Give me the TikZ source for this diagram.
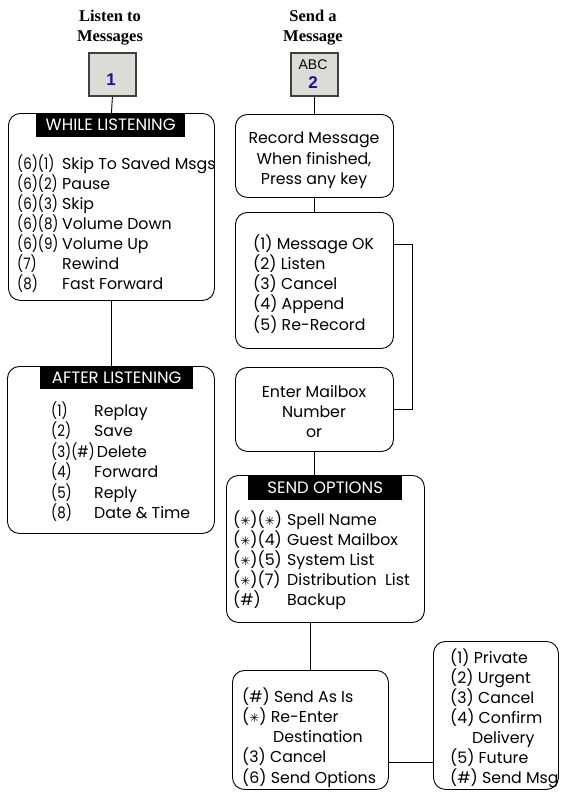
\documentclass[tikz,border=0pt]{standalone}
\usepackage{fontspec}
\usepackage{graphicx}
\setmainfont{Liberation Serif}
\newfontfamily\gothic{Poppins}
\newfontfamily\symfont{DejaVu Sans}
\newfontfamily\keyfont{Liberation Sans}
\usetikzlibrary{positioning}

\definecolor{keygray}{RGB}{221,219,213}
\definecolor{keyblue}{RGB}{20,20,150}
\newcommand{\starkey}{{\symfont\fontsize{12}{12}\selectfont ✳}}
\newcommand{\keycol}[2]{\makebox[#1][l]{\scalebox{0.85}[1]{#2}}}

\tikzset{
	menubox/.style={draw, rounded corners=12pt, line width=0.9pt, anchor=north west, inner sep=0pt},
	header/.style={fill=black, text=white, font=\gothic\fontsize{16.5}{16.5}\selectfont, anchor=north west, inner sep=0pt},
	item/.style={anchor=base west, inner sep=0pt, font=\gothic\fontsize{15.8}{15.8}\selectfont},
	citem/.style={item, anchor=base},
	keybox/.style={draw=black!75, fill=keygray, line width=1.8pt, anchor=north west, inner sep=0pt, minimum width=47pt, minimum height=43pt},
	title/.style={align=center, font=\bfseries\fontsize{16.5}{20}\selectfont},
	link/.style={line width=0.9pt}
}

\begin{document}
\begin{tikzpicture}[x=1pt, y=-1pt]
	\useasboundingbox (0,0) rectangle (561,792);

	% titles and keys
	\node[title] (t1) at (110,28) {Listen to\\Messages};
	\node[title] (t2) at (313,28) {Send a\\Message};
	\node[keybox] (k1) at (88,52) {};
	\node[keybox] (k2) at (290,52) {};
	\node[font=\keyfont\bfseries\fontsize{17}{17}\selectfont, text=keyblue] (k1num) at (111,80) {1};
	\node[font=\keyfont\fontsize{14}{14}\selectfont] (k2abc) at (313,65) {ABC};
	\node[font=\keyfont\bfseries\fontsize{17}{17}\selectfont, text=keyblue] (k2num) at (313,83) {2};

	% left column
	\node[menubox, minimum width=206pt, minimum height=187pt] (wl) at (8,113) {};
	\node[header, minimum width=149pt, minimum height=24pt] (wlhead) at (36,113) {WHILE LISTENING};
	\foreach \k/\t [count=\i] in {(6)(1)/Skip To Saved Msgs, (6)(2)/Pause, (6)(3)/Skip, (6)(8)/Volume Down, (6)(9)/Volume Up, (7)/Rewind, (8)/Fast Forward}
		\node[item] (wl\i) at (17,149+20*\i) {\keycol{45pt}{\k}\t};

	\node[menubox, minimum width=207pt, minimum height=167pt] (al) at (7,366) {};
	\node[header, minimum width=153pt, minimum height=23pt] (alhead) at (40,366) {AFTER LISTENING};
	\foreach \k/\t [count=\i] in {(1)/Replay, (2)/Save, (3)(\#)/\,Delete, (4)/Forward, (5)/Reply, (8)/Date \& Time}
		\node[item] (al\i) at (51,396+20.4*\i) {\keycol{43pt}{\k}\t};

	% right column
	\node[menubox, minimum width=158pt, minimum height=83pt] (rec) at (235,114) {};
	\foreach \t [count=\i] in {Record Message, {When finished,}, Press any key}
		\node[citem] (rec\i) at (314,123+20.5*\i) {\t};

	\node[menubox, minimum width=158pt, minimum height=136pt] (opt) at (235,212) {};
	\foreach \t [count=\i] in {(1) Message OK, (2) Listen, (3) Cancel, (4) Append, (5) Re-Record}
		\node[item] (opt\i) at (253,229+20.2*\i) {\t};

	\node[menubox, minimum width=158pt, minimum height=84pt] (ent) at (235,367) {};
	\foreach \t [count=\i] in {Enter Mailbox, Number, or}
		\node[citem] (ent\i) at (314,377+20*\i) {\t};

	\node[menubox, minimum width=198pt, minimum height=147pt] (so) at (226,475) {};
	\node[header, minimum width=154pt, minimum height=25pt] (sohead) at (248,475) {SEND OPTIONS};
	\foreach \k/\t [count=\i] in {(\starkey)(\starkey)/Spell Name, (\starkey)(4)/Guest Mailbox, (\starkey)(5)/System List, (\starkey)(7)/Distribution\ \ List, (\#)/Backup}
		\node[item] (so\i) at (233,505+20*\i) {\makebox[54pt][l]{\k}\t};

	\node[menubox, minimum width=156pt, minimum height=119pt] (snd) at (232,670) {};
	\foreach \x/\t [count=\i] in {242/(\#) Send As Is, 242/(\starkey) Re-Enter, 273/Destination, 242/(3) Cancel, 242/(6) Send Options}
		\node[item] (snd\i) at (\x,682+20.2*\i) {\t};

	\node[menubox, minimum width=125pt, minimum height=148pt] (prv) at (433,641) {};
	\foreach \x/\t [count=\i] in {450/(1) Private, 450/(2) Urgent, 450/(3) Cancel, 450/(4) Confirm, 472/Delivery, 450/(5) Future, 450/(\#) Send Msg}
		\node[item] (prv\i) at (\x,643+20*\i) {\t};

	% connectors
	\draw[link] (k1.south) -- (wl.north);
	\draw[link] (wl.south) -- (wl.south |- al.north);
	\draw[link] (k2.south) -- (k2.south |- rec.north);
	\draw[link] (rec.south) -- (opt.north);
	\draw[link] (opt1 -| opt.east) -- ++(19,0) |- (ent.east);
	\draw[link] (ent.south) -- (ent.south |- so.north);
	\draw[link] (snd.north) -- (snd.north |- so.south);
	\coordinate (sndout) at (388,762);
	\draw[link] (sndout) -- (sndout -| prv.west);
\end{tikzpicture}
\end{document}
